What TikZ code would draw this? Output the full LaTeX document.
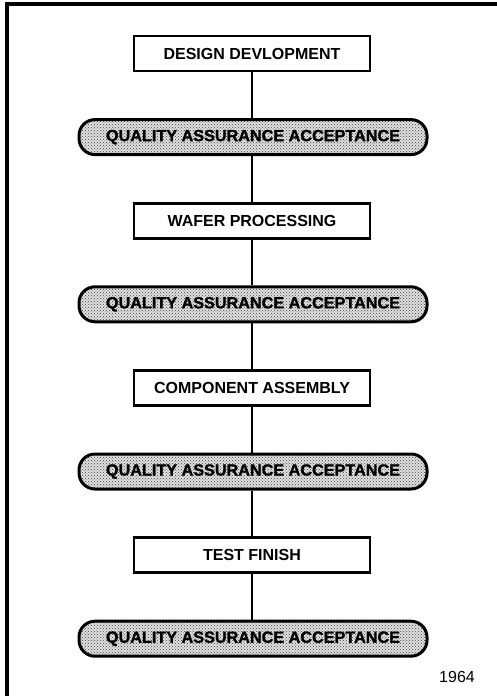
\documentclass[tikz,border=0pt]{standalone}
\usepackage{fontspec}
\setmainfont{Liberation Sans}
\newfontfamily\heavyfont[FakeBold=1.4]{Liberation Sans Bold}
\usetikzlibrary{positioning,patterns}
\tikzset{
  stagebox/.style={draw,line width=2.8pt,minimum width=236pt,minimum height=35pt,inner sep=0pt,
    font=\fontsize{16}{18}\selectfont\bfseries},
  qabox/.style={draw,line width=3pt,rounded corners=16pt,minimum width=348pt,minimum height=35pt,inner sep=0pt,
    preaction={fill=black!12},pattern=crosshatch dots,pattern color=black!75,
    font=\fontsize{16.2}{18}\heavyfont},
  link/.style={line width=1.3pt}
}
\begin{document}
\begin{tikzpicture}[x=1pt,y=-1pt]
  \useasboundingbox (0,0) rectangle (497,696);
  \draw[line width=3.5pt] (7,696) -- (7,4) -- (497,4);
  \node[stagebox] (dev)   at (252,53.5)  {DESIGN DEVLOPMENT};
  \node[qabox]    (qa1)   at (253,137.1) {QUALITY ASSURANCE ACCEPTANCE};
  \node[stagebox] (wafer) at (252,220.7) {WAFER PROCESSING};
  \node[qabox]    (qa2)   at (253,304.3) {QUALITY ASSURANCE ACCEPTANCE};
  \node[stagebox] (assy)  at (252,387.9) {COMPONENT ASSEMBLY};
  \node[qabox]    (qa3)   at (253,471.5) {QUALITY ASSURANCE ACCEPTANCE};
  \node[stagebox] (test)  at (252,555.1) {TEST FINISH};
  \node[qabox]    (qa4)   at (253,638.7) {QUALITY ASSURANCE ACCEPTANCE};
  \node[font=\fontsize{16}{18}\selectfont] (year) at (457,677) {1964};
  \draw[link] (dev.south) -- (qa1.north -| dev.south);
  \draw[link] (qa1.south -| dev.south) -- (wafer.north);
  \draw[link] (wafer.south) -- (qa2.north -| wafer.south);
  \draw[link] (qa2.south -| wafer.south) -- (assy.north);
  \draw[link] (assy.south) -- (qa3.north -| assy.south);
  \draw[link] (qa3.south -| assy.south) -- (test.north);
  \draw[link] (test.south) -- (qa4.north -| test.south);
\end{tikzpicture}
\end{document}
